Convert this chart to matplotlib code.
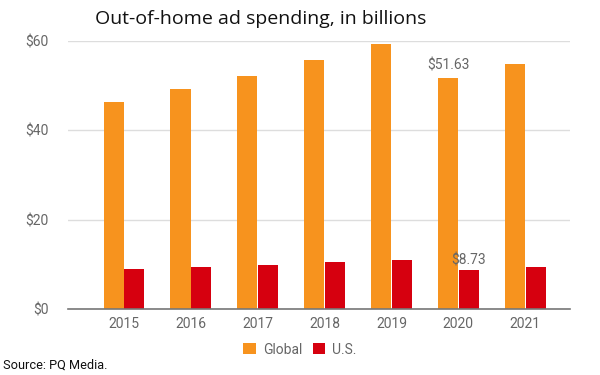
import matplotlib.pyplot as plt
import numpy as np

years = ['2015', '2016', '2017', '2018', '2019', '2020', '2021']
global_spend = [46.3, 49.2, 52.2, 55.7, 59.3, 51.63, 54.8]
us_spend = [9.0, 9.4, 9.8, 10.5, 11.0, 8.73, 9.4]
y_ticks = [0, 20, 40, 60]

orange = '#F7931E'
red = '#D6000F'
gray = '#666666'

plt.rcParams['font.family'] = ['Roboto', 'DejaVu Sans']

fig = plt.figure(figsize=(6, 3.75), dpi=100)
ax = fig.add_axes([0.113, 0.176, 0.837, 0.715])

x = np.arange(len(years))
w = 0.3
ax.bar(x - w / 2 - 0.005, global_spend, w, color=orange, label='Global', zorder=3)
ax.bar(x + w / 2 + 0.005, us_spend, w, color=red, label='U.S.', zorder=3)

# value labels on 2020 only
i = years.index('2020')
ax.text(x[i] - w / 2, global_spend[i] + 1.2, f'${global_spend[i]:.2f}', ha='center',
        va='bottom', fontsize=10, color=gray)
ax.text(x[i] + w / 2, us_spend[i] + 0.6, f'${us_spend[i]:.2f}', ha='center',
        va='bottom', fontsize=10, color=gray)

ax.set_xlim(-0.84, 6.67)
ax.set_ylim(0, 60)
ax.set_yticks(y_ticks)
ax.set_yticklabels([f'${t}' for t in y_ticks])
ax.set_xticks(x)
ax.set_xticklabels(years)
ax.tick_params(length=0, labelsize=10, colors=gray)
ax.tick_params(axis='y', pad=14)
ax.tick_params(axis='x', pad=6)
ax.grid(axis='y', color='#dddddd', linewidth=1, zorder=0)
for s in ['top', 'right', 'left']:
    ax.spines[s].set_visible(False)
ax.spines['bottom'].set_color('#777777')
ax.spines['bottom'].set_linewidth(1.2)
ax.spines['bottom'].set_zorder(4)

fig.text(0.435, 0.948, 'Out-of-home ad spending, in billions', ha='center', va='center',
         fontsize=14, family=['Open Sans', 'DejaVu Sans'], color='#111111')

leg = fig.legend(loc='center', bbox_to_anchor=(0.5, 0.068), ncol=2, frameon=False,
                 fontsize=10, handlelength=0.9, handleheight=0.9, columnspacing=0.8,
                 handletextpad=0.5)
for t in leg.get_texts():
    t.set_color(gray)

fig.text(0.005, 0.027, 'Source: PQ Media.', ha='left', va='center', fontsize=9.2,
         color='#111111')

fig.savefig('out.png', dpi=100)
